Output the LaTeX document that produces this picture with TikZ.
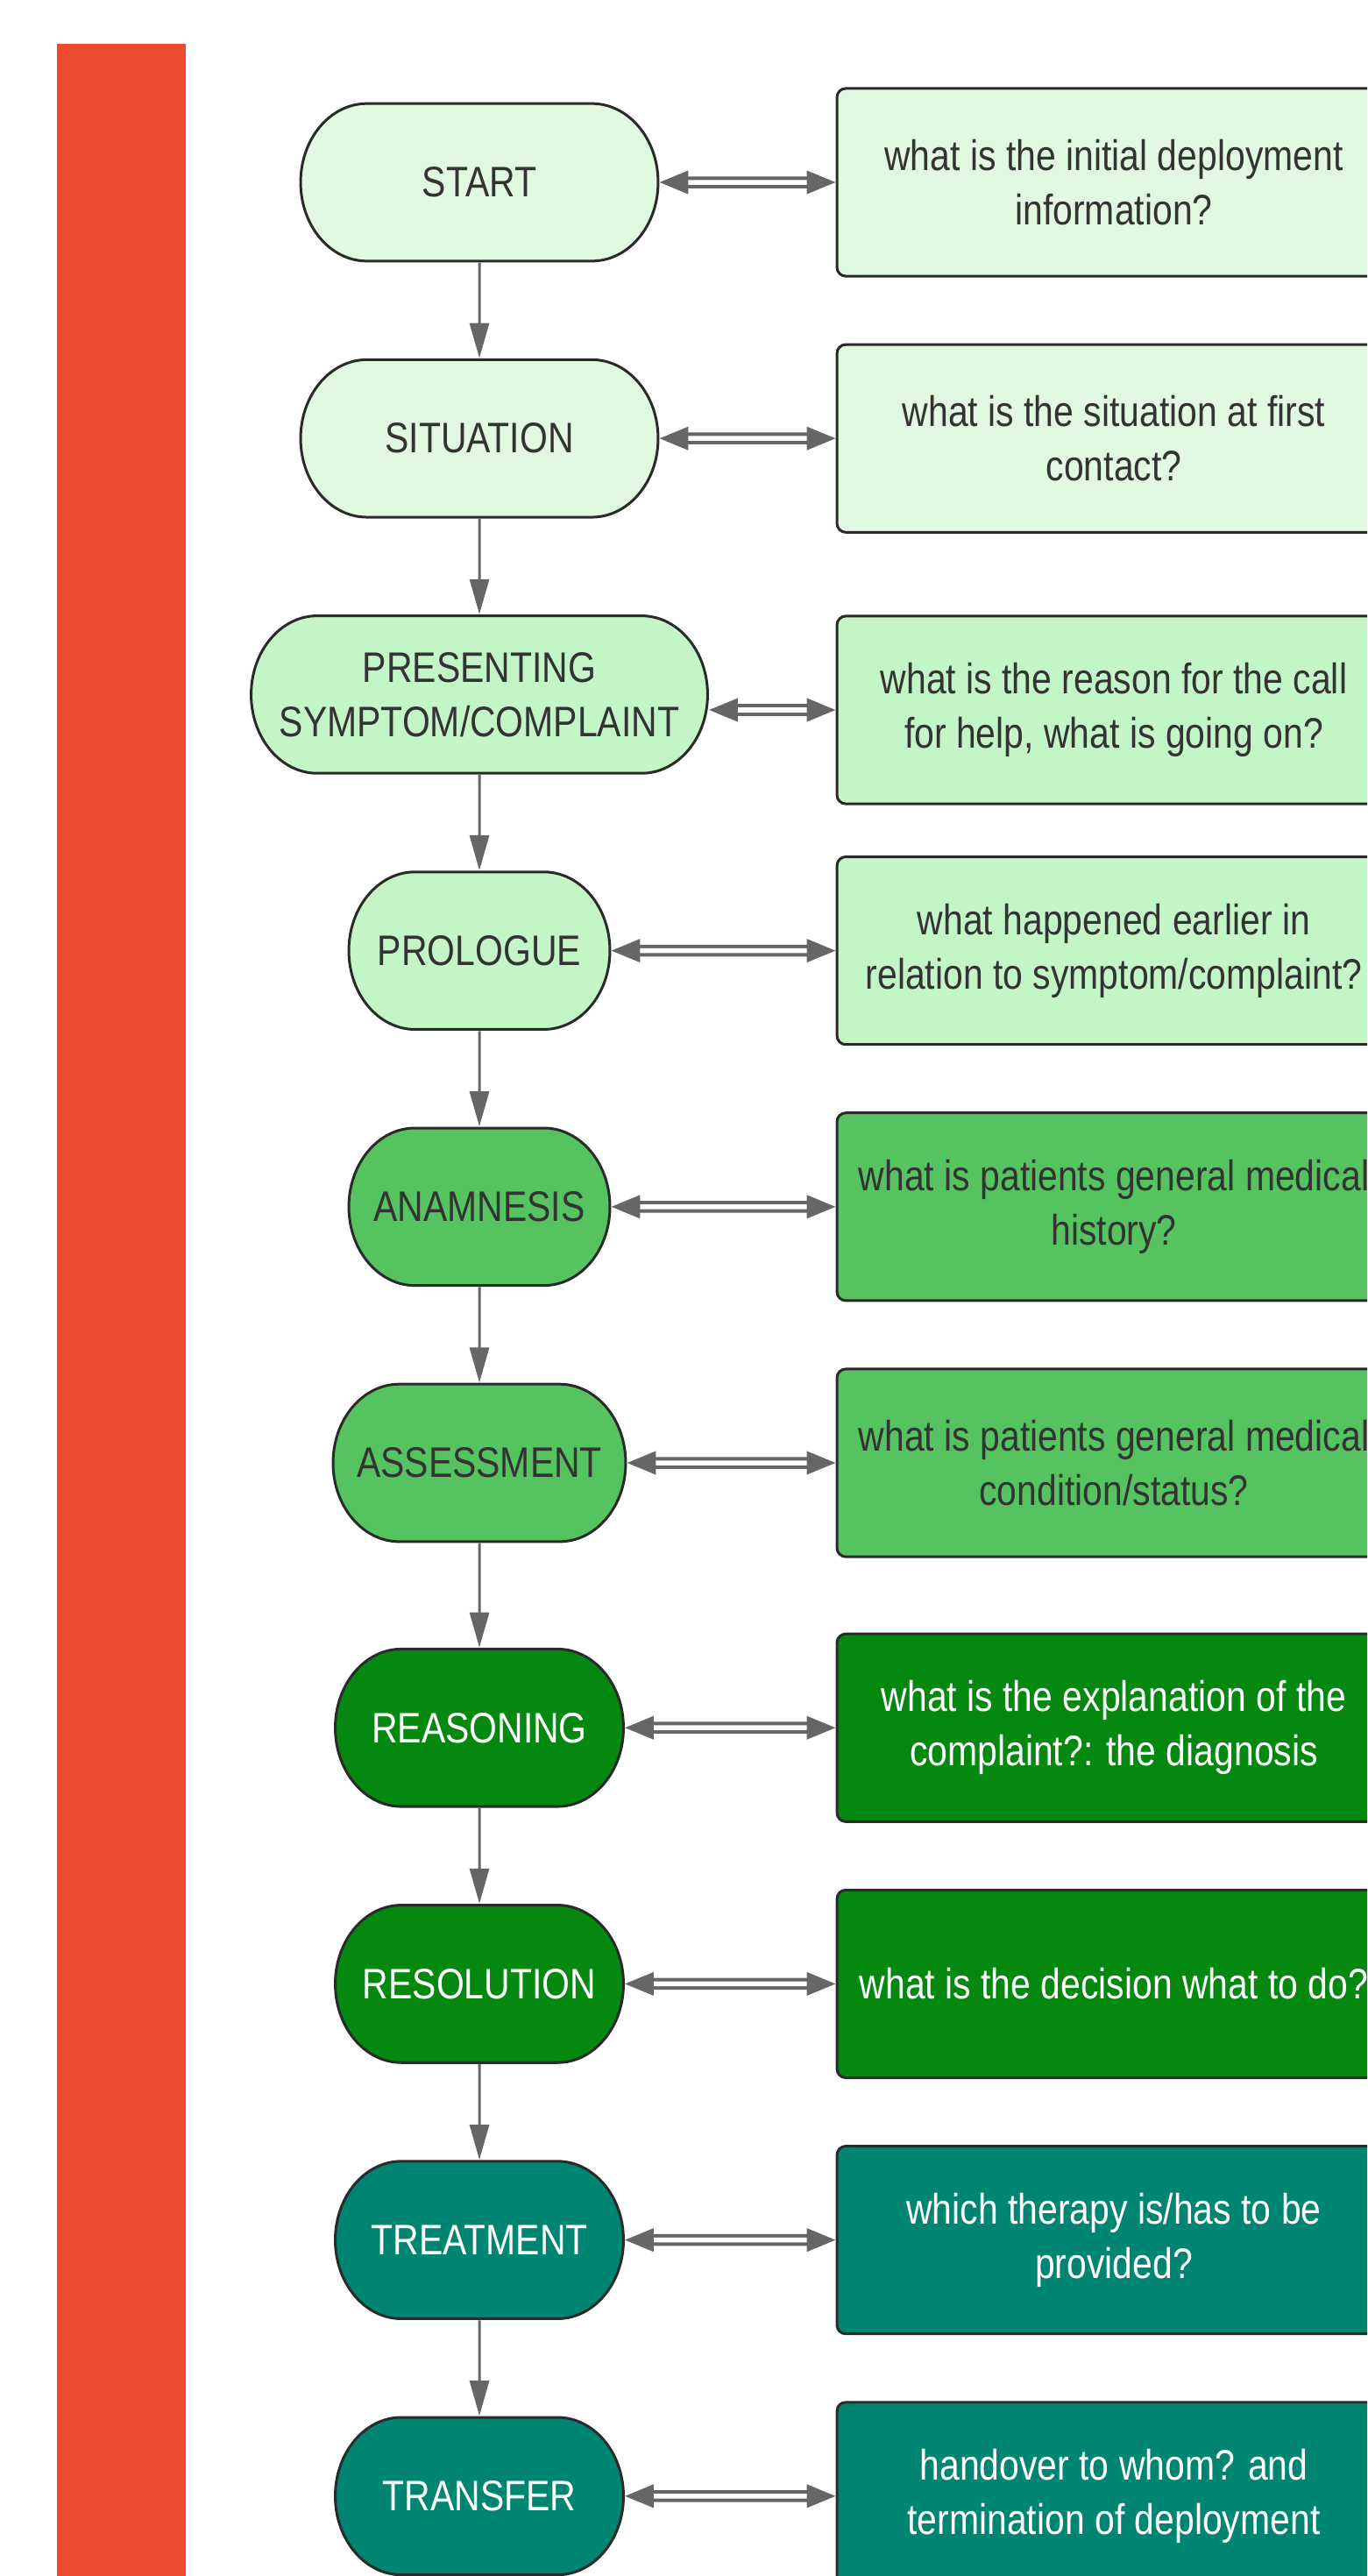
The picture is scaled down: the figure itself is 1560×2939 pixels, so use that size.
\documentclass[tikz,border=0pt]{standalone}
\usepackage{fontspec}
\setmainfont{Liberation Sans}
\usetikzlibrary{positioning, arrows.meta, shapes.misc}

\definecolor{barred}{HTML}{EB4B2E}
\definecolor{palegreen}{HTML}{E1F8E1}
\definecolor{lightgreen}{HTML}{C3F5C6}
\definecolor{midgreen}{HTML}{55C35F}
\definecolor{darkgreen}{HTML}{04880F}
\definecolor{tealgreen}{HTML}{008573}
\definecolor{textdark}{HTML}{333333}
\definecolor{border}{HTML}{2A2A2A}
\definecolor{arrowgray}{HTML}{666666}

\begin{document}
\begin{tikzpicture}[x = 0.02cm, y = -0.02cm, node distance = 2.18cm,
        every node/.style={font=\fontsize{23.3pt}{29.6pt}\selectfont},
        stage/.style={rounded rectangle, draw=border, line width=0.06cm, minimum height=3.02cm, inner xsep=-1.5cm, inner ysep=0pt, align=center, text=textdark, yscale=1.19},
        question/.style={rectangle, draw=border, line width=0.06cm, rounded corners=0.2cm, minimum width=12.64cm, minimum height=3.6cm, inner sep=0pt, align=center, text=textdark, yscale=1.19},
        flow/.style={draw=arrowgray, line width=0.06cm, -{Triangle[length=0.8cm, width=0.44cm]}},
        link/.style={draw=arrowgray, line width=0.08cm, double, double distance=0.11cm, {Triangle[length=0.66cm, width=0.52cm]}-{Triangle[length=0.66cm, width=0.52cm]}}
    ]
        \useasboundingbox (0,0) rectangle (1560,2939);
        \clip (0,0) rectangle (1560,2939);
        \fill[white] (0,0) rectangle (1560,2939);

        % Side bar
        \fill[barred] (65,50) rectangle (212,2939);

        % Nodes: stages
        \node[stage, fill=palegreen, minimum width=5.16cm] (st0) at (547,208) {START};
        \node[stage, fill=palegreen, minimum width=5.16cm, below = of st0] (st1) {SITUATION};
        \node[stage, fill=lightgreen, minimum width=7.42cm, below = of st1] (st2) {PRESENTING\\SYMPTOM/COMPLAINT};
        \node[stage, fill=lightgreen, minimum width=2.96cm, below = of st2] (st3) {PROLOGUE};
        \node[stage, fill=midgreen, minimum width=2.96cm, below = of st3] (st4) {ANAMNESIS};
        \node[stage, fill=midgreen, minimum width=3.68cm, below = of st4] (st5) {ASSESSMENT};
        \node[stage, fill=darkgreen, text=white, minimum width=3.58cm, below = 2.38cm of st5] (st6) {REASONING};
        \node[stage, fill=darkgreen, text=white, minimum width=3.58cm, below = of st6] (st7) {RESOLUTION};
        \node[stage, fill=tealgreen, text=white, minimum width=3.58cm, below = of st7] (st8) {TREATMENT};
        \node[stage, fill=tealgreen, text=white, minimum width=3.58cm, below = of st8] (st9) {TRANSFER};

        % Nodes: questions
        \coordinate (qcol) at (1271,0);
        \node[question, fill=palegreen] (q0) at (st0 -| qcol) {what is the initial deployment\\information?};
        \node[question, fill=palegreen] (q1) at (st1 -| qcol) {what is the situation at first\\contact?};
        \node[question, fill=lightgreen] (q2) at (1271,810) {what is the reason for the call\\for help, what is going on?};
        \node[question, fill=lightgreen] (q3) at (st3 -| qcol) {what happened earlier in\\relation to symptom/complaint?};
        \node[question, fill=midgreen] (q4) at (st4 -| qcol) {what is patients general medical\\history?};
        \node[question, fill=midgreen] (q5) at (st5 -| qcol) {what is patients general medical\\condition/status?};
        \node[question, fill=darkgreen, text=white] (q6) at (st6 -| qcol) {what is the explanation of the\\complaint?: the diagnosis};
        \node[question, fill=darkgreen, text=white] (q7) at (st7 -| qcol) {what is the decision what to do?};
        \node[question, fill=tealgreen, text=white] (q8) at (st8 -| qcol) {which therapy is/has to be\\provided?};
        \node[question, fill=tealgreen, text=white] (q9) at (st9 -| qcol) {handover to whom? and\\termination of deployment};

        % Paths: sequence
        \draw[flow] (st0) -- (st1);
        \draw[flow] (st1) -- (st2);
        \draw[flow] (st2) -- (st3);
        \draw[flow] (st3) -- (st4);
        \draw[flow] (st4) -- (st5);
        \draw[flow] (st5) -- (st6);
        \draw[flow] (st6) -- (st7);
        \draw[flow] (st7) -- (st8);
        \draw[flow] (st8) -- (st9);

        % Paths: questions
        \draw[link] (st0) -- (q0);
        \draw[link] (st1) -- (q1);
        \draw[link] (st2.east |- q2.west) -- (q2.west);
        \draw[link] (st3) -- (q3);
        \draw[link] (st4) -- (q4);
        \draw[link] (st5) -- (q5);
        \draw[link] (st6) -- (q6);
        \draw[link] (st7) -- (q7);
        \draw[link] (st8) -- (q8);
        \draw[link] (st9) -- (q9);
    \end{tikzpicture}
\end{document}
